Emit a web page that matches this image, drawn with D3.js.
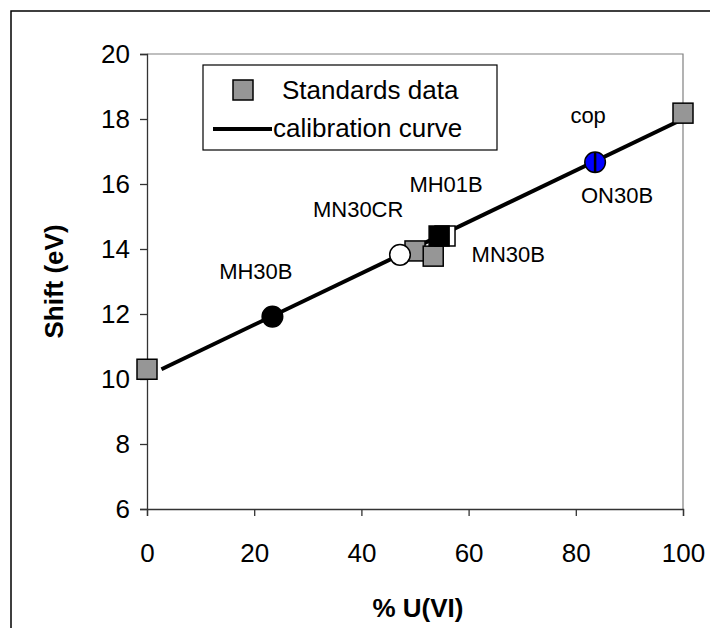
<!DOCTYPE html>
<html><head><meta charset="utf-8">
<script src="https://cdn.jsdelivr.net/npm/d3@7"></script>
<style>body{margin:0;background:#fff}svg{display:block;font-family:Arial,"Liberation Sans",sans-serif}</style>
</head><body>
<svg id="c" width="710" height="628"></svg>
<script>
// ---- data ----
const xTicks = [0, 20, 40, 60, 80, 100];
const yTicks = [6, 8, 10, 12, 14, 16, 18, 20];
const standardsX = [0, 100, 50.0, 53.4];
const standardsY = [10.3, 18.18, 13.94, 13.78];
const curveX = [2.7, 100];
const curveY = [10.3, 18.0];
const sampleNames = ["MH30B", "MN30CR", "MH01B", "MN30B", "ON30B"];
const sampleX = [23.4, 47.2, 54.5, 55.6, 83.6];
const sampleY = [11.92, 13.82, 14.4, 14.4, 16.67];
const labelText = ["MH30B", "MN30CR", "MH01B", "MN30B", "cop", "ON30B"];
const labelX = [20.3, 39.4, 55.8, 67.4, 82.3, 87.7];
const labelY = [13.32, 15.23, 16.0, 13.82, 18.1, 15.66];

const svg = d3.select("#c");
const x = d3.scaleLinear().domain([0, 100]).range([147, 683]);
const y = d3.scaleLinear().domain([6, 20]).range([509, 54]);

// outer frame
svg.append("rect").attr("x", 11).attr("y", 11).attr("width", 720).attr("height", 640)
  .attr("fill", "none").attr("stroke", "#000").attr("stroke-width", 1.5);

// plot area border (top/right)
svg.append("path").attr("d", `M${x(0)},${y(20)}H${x(100)}V${y(6)}`)
  .attr("fill", "none").attr("stroke", "#808080").attr("stroke-width", 1.2);

// axes
const yAxis = svg.append("g").attr("transform", `translate(${x(0)},0)`)
  .call(d3.axisLeft(y).tickValues(yTicks).tickSize(7).tickPadding(10).tickFormat(d3.format("d")));
const xAxis = svg.append("g").attr("transform", `translate(0,${y(6)})`)
  .call(d3.axisBottom(x).tickValues(xTicks).tickSize(7).tickPadding(28).tickFormat(d3.format("d")));
[yAxis, xAxis].forEach(g => {
  g.select(".domain").attr("stroke", "#333").attr("stroke-width", 1.3);
  g.selectAll(".tick line").attr("stroke", "#333").attr("stroke-width", 1.3);
  g.selectAll(".tick text").attr("font-size", 26).attr("fill", "#000")
    .attr("font-family", "Arial, 'Liberation Sans', sans-serif");
});

// axis titles
svg.append("text").attr("x", 418).attr("y", 608).attr("text-anchor", "middle")
  .attr("dominant-baseline", "central").attr("font-size", 26).attr("font-weight", "bold").text("% U(VI)");
svg.append("text").attr("transform", `translate(54,${(y(6) + y(20)) / 2}) rotate(-90)`)
  .attr("text-anchor", "middle").attr("dominant-baseline", "central")
  .attr("font-size", 26).attr("font-weight", "bold").text("Shift (eV)");

// calibration curve
const line = d3.line().x(d => x(d[0])).y(d => y(d[1]));
svg.append("path").datum(d3.zip(curveX, curveY)).attr("d", line)
  .attr("fill", "none").attr("stroke", "#000").attr("stroke-width", 4);

// standards squares
const S = 20;
svg.selectAll("rect.std").data(d3.zip(standardsX, standardsY)).join("rect").attr("class", "std")
  .attr("x", d => x(d[0]) - S / 2).attr("y", d => y(d[1]) - S / 2)
  .attr("width", S).attr("height", S).attr("fill", "#969696").attr("stroke", "#000").attr("stroke-width", 1.5);

// samples
const samples = sampleNames.map((n, i) => ({ n, x: sampleX[i], y: sampleY[i] }));
// MN30B (white square) behind MH01B (black square)
[samples[3], samples[2]].forEach(d => {
  svg.append("rect").attr("x", x(d.x) - S / 2).attr("y", y(d.y) - S / 2).attr("width", S).attr("height", S)
    .attr("fill", d.n === "MH01B" ? "#000" : "#fff").attr("stroke", "#000").attr("stroke-width", 1.5);
});
[samples[0], samples[1], samples[4]].forEach(d => {
  const fill = d.n === "MH30B" ? "#000" : d.n === "MN30CR" ? "#fff" : "#0000ff";
  svg.append("circle").attr("cx", x(d.x)).attr("cy", y(d.y)).attr("r", 10.3)
    .attr("fill", fill).attr("stroke", "#000").attr("stroke-width", 1.5);
  if (d.n === "ON30B") {
    svg.append("line").attr("x1", x(d.x)).attr("x2", x(d.x)).attr("y1", y(d.y) - 10).attr("y2", y(d.y) + 10)
      .attr("stroke", "#000").attr("stroke-width", 2.5);
  }
});

// data labels
svg.selectAll("text.lbl").data(labelText).join("text").attr("class", "lbl")
  .attr("x", (d, i) => x(labelX[i])).attr("y", (d, i) => y(labelY[i]))
  .attr("text-anchor", "middle").attr("dominant-baseline", "central")
  .attr("font-size", 22).text(d => d);

// legend
const lg = svg.append("g");
lg.append("rect").attr("x", 203).attr("y", 65).attr("width", 294).attr("height", 85)
  .attr("fill", "#fff").attr("stroke", "#000").attr("stroke-width", 1.2);
lg.append("rect").attr("x", 233).attr("y", 80).attr("width", S).attr("height", S)
  .attr("fill", "#969696").attr("stroke", "#000").attr("stroke-width", 1.5);
lg.append("text").attr("x", 282).attr("y", 90).attr("dominant-baseline", "central")
  .attr("font-size", 26).text("Standards data");
lg.append("line").attr("x1", 213).attr("x2", 272).attr("y1", 129).attr("y2", 129)
  .attr("stroke", "#000").attr("stroke-width", 4);
lg.append("text").attr("x", 273).attr("y", 128).attr("dominant-baseline", "central")
  .attr("font-size", 26).text("calibration curve");
</script>
</body></html>
